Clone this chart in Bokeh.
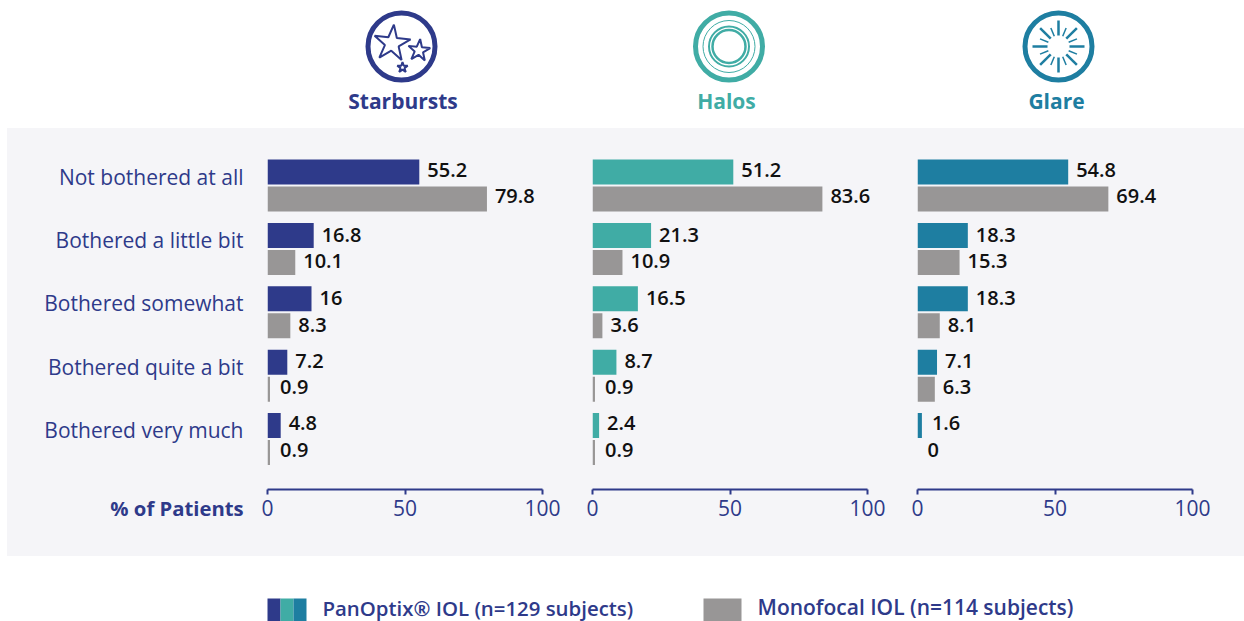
import numpy as np
from bokeh.embed import file_html
from bokeh.layouts import column, row
from bokeh.models import ColumnDataSource, FixedTicker, LinearAxis, Range1d, Spacer
from bokeh.core.properties import value
from bokeh.plotting import figure
from bokeh.resources import INLINE

categories = ["Not bothered at all", "Bothered a little bit", "Bothered somewhat",
              "Bothered quite a bit", "Bothered very much"]
panel_names = ["Starbursts", "Halos", "Glare"]
starbursts_panoptix = [55.2, 16.8, 16, 7.2, 4.8]
starbursts_monofocal = [79.8, 10.1, 8.3, 0.9, 0.9]
halos_panoptix = [51.2, 21.3, 16.5, 8.7, 2.4]
halos_monofocal = [83.6, 10.9, 3.6, 0.9, 0.9]
glare_panoptix = [54.8, 18.3, 18.3, 7.1, 1.6]
glare_monofocal = [69.4, 15.3, 8.1, 6.3, 0]
x_ticks = [0, 50, 100]
legend_labels = ["PanOptix® IOL (n=129 subjects)", "Monofocal IOL (n=114 subjects)"]
axis_title = "% of Patients"

NAVY, TEAL, BLUE, GRAY = "#2e3a8a", "#40aca5", "#1e7ea1", "#989696"
PANEL = "#f5f5f8"
FONT = "Open Sans"
SEMI = "Open Sans SemiBold"
panel_colors = [NAVY, TEAL, BLUE]

# layout in page pixels
PAGE_W, PAGE_H = 1244, 621
TOP, FRAME_B, PANEL_B = 128, 489, 556
ROW0, PITCH = 185.0, 63.4
BAR_H, DODGE = 25 / PITCH, 13.5 / PITCH
y0 = (TOP - ROW0) / PITCH
y1 = (FRAME_B - ROW0) / PITCH
rows = np.arange(len(categories))
ROW_NUDGE = np.array([0, 2, 2, 1, 0])
AXIS_STYLE = dict(major_tick_in=0, major_tick_out=5, minor_tick_line_color=None, major_label_standoff=5)


def make_panel(pan, mono, color, left, extra):
    w = 275 + extra
    p = figure(width=left + w, height=PANEL_B - TOP, x_range=Range1d(0, 100 * w / 275), y_range=Range1d(y1, y0),
               output_backend="svg", toolbar_location=None, x_axis_location=None, y_axis_location=None,
               min_border_left=left, min_border_right=0, min_border_top=0,
               min_border_bottom=PANEL_B - FRAME_B, background_fill_color=PANEL,
               border_fill_color=PANEL, outline_line_color=None)
    p.grid.visible = False
    for vals, off, col, lo in ((pan, -DODGE, color, 2.5), (mono, DODGE, GRAY, 3)):
        src = ColumnDataSource(dict(y=rows + off, v=vals, t=[f"{v:g}" for v in vals],
                                    dx=[10 if v < 2 else 8 for v in vals],
                                    dy=ROW_NUDGE - lo))
        p.hbar(y="y", left=0, right="v", height=BAR_H, source=src, color=col, line_width=0)
        p.text(x="v", y="y", text="t", source=src, x_offset="dx", y_offset="dy", text_color="#111111",
               text_font=value(SEMI), text_font_size="20px", text_baseline="middle", text_align="left")
    ax = LinearAxis(ticker=FixedTicker(ticks=x_ticks), bounds=(0, 100), axis_line_color=NAVY, axis_line_width=2,
                    major_tick_line_color=NAVY, major_tick_line_width=2, major_label_text_color=NAVY,
                    major_label_text_font=FONT, major_label_text_font_size="21px", **AXIS_STYLE)
    p.add_layout(ax, "below")
    return p


# margin holding the row names and the axis title, same vertical scale as the panels
m = figure(width=240, height=PANEL_B - TOP, x_range=Range1d(7, 247), y_range=Range1d(y1, y0),
           output_backend="svg", toolbar_location=None, x_axis_location=None, y_axis_location=None,
           min_border=0, min_border_bottom=PANEL_B - FRAME_B, outline_line_color=None,
           background_fill_color=PANEL, border_fill_color=PANEL)
m.grid.visible = False
m.text(x=[243] * 5, y=rows - 9 / PITCH, text=categories, text_color=NAVY, text_align="right",
       text_baseline="middle", text_font=value(FONT), text_font_size="21px")
m_ax = LinearAxis(ticker=FixedTicker(ticks=[176.5]), major_label_overrides={176.5: axis_title},
                  axis_line_color=None, major_tick_line_color=None, major_label_text_color=NAVY,
                  major_label_text_font=FONT, major_label_text_font_size="20.3px",
                  major_label_text_font_style="bold", major_tick_in=0, major_tick_out=0,
                  minor_tick_line_color=None, major_label_standoff=4)
m.add_layout(m_ax, "below")

p1 = make_panel(starbursts_panoptix, starbursts_monofocal, NAVY, 20, 25)
p2 = make_panel(halos_panoptix, halos_monofocal, TEAL, 25, 25)
p3 = make_panel(glare_panoptix, glare_monofocal, BLUE, 25, 52)

# header strip: page pixel coordinates
h = figure(width=PAGE_W, height=TOP, x_range=Range1d(0, PAGE_W), y_range=Range1d(TOP, 0),
           output_backend="svg", toolbar_location=None, x_axis_location=None, y_axis_location=None,
           min_border=0, outline_line_color=None, background_fill_color="white", border_fill_color="white")
h.grid.visible = False
centers = [401, 728.5, 1058]
title_x = [402.5, 726, 1056]
h.scatter(x=centers, y=[46] * 3, size=67, marker="circle", fill_color=None, line_color=panel_colors, line_width=5)
h.text(x=title_x, y=[100] * 3, text=panel_names, text_color=panel_colors, text_align="center",
       text_baseline="middle", text_font=value(FONT), text_font_size="21px", text_font_style="bold")
# starburst icon
h.scatter(x=[391.5, 418.5, 402], y=[43, 50, 67], size=[38, 23, 11], marker="star", fill_color=None,
          line_color=NAVY, line_width=2, angle=[-0.1, -0.1, 0])
# halo icon
h.scatter(x=[centers[1]] * 3, y=[46] * 3, size=[52, 40, 33], marker="circle", fill_color=None,
          line_color=TEAL, line_width=[1, 2, 2.5])
# glare icon
ang = np.arange(16) * np.pi / 8
r_in = np.full(16, 11.0)
r_out = np.where(np.arange(16) % 2 == 0, 26.0, 20.0)
h.segment(x0=centers[2] + r_in * np.cos(ang), y0=46 + r_in * np.sin(ang),
          x1=centers[2] + r_out * np.cos(ang), y1=46 + r_out * np.sin(ang),
          line_color=BLUE, line_width=[2.5 if i % 2 == 0 else 1.5 for i in range(16)])

# legend strip
f = figure(width=PAGE_W, height=PAGE_H - PANEL_B, x_range=Range1d(0, PAGE_W), y_range=Range1d(PAGE_H, PANEL_B),
           output_backend="svg", toolbar_location=None, x_axis_location=None, y_axis_location=None,
           min_border=0, outline_line_color=None, background_fill_color="white", border_fill_color="white")
f.grid.visible = False
f.quad(left=[267, 280, 293, 703], right=[280, 293, 306, 741], top=[598] * 4, bottom=[630] * 4,
       color=[NAVY, TEAL, BLUE, GRAY], line_width=0)
f.text(x=[322], y=[607.5], text=legend_labels[:1], text_color=NAVY, text_baseline="middle",
       text_font=value(SEMI), text_font_size="20.4px")
f.text(x=[757], y=[606.5], text=legend_labels[1:], text_color=NAVY, text_baseline="middle",
       text_font=value(SEMI), text_font_size="21px")

panel_row = row(Spacer(width=7, height=PANEL_B - TOP, styles={"background-color": "white"}),
                m, p1, p2, p3, spacing=0, styles={"background-color": PANEL})
layout = column(h, panel_row, f, spacing=0)
open("out.html", "w").write(file_html(layout, INLINE))
